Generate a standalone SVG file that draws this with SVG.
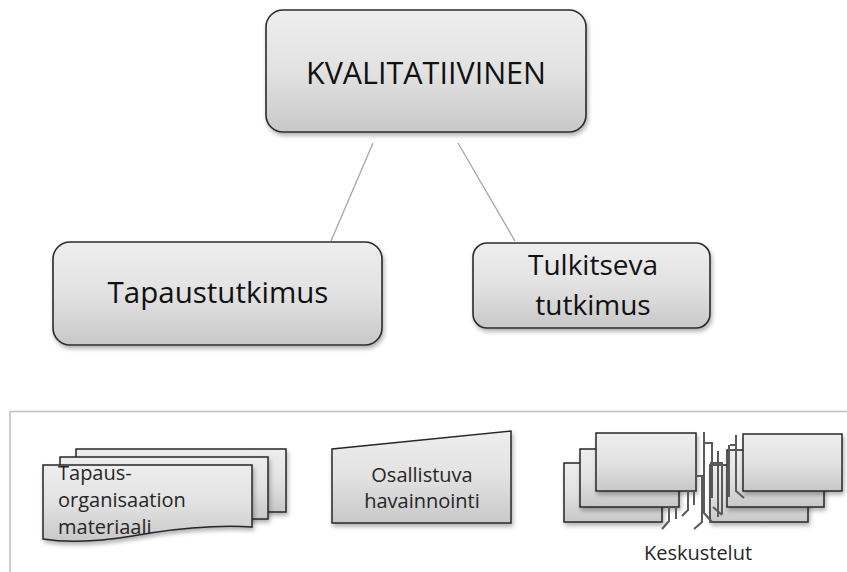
<svg xmlns="http://www.w3.org/2000/svg" width="847" height="572" viewBox="0 0 847 572">
<style>
text{font-family:"Open Sans","Liberation Sans",Arial,sans-serif;fill:#111;text-anchor:middle}
.box{fill:url(#g);stroke:#2b2b2b;stroke-width:1.6;filter:url(#sh)}
.sm{fill:url(#g);stroke:#262626;stroke-width:1.5;filter:url(#sh)}
.conn{stroke:#a6a6a6;stroke-width:1.3;fill:none}
.cab{stroke:#5a5a5a;stroke-width:2;fill:none}
.frame{stroke:#bfbfbf;stroke-width:1.5;fill:none}
.lbl{font-size:20px;fill:#262626}
</style>
<defs>
<linearGradient id="g" x1="0" y1="0" x2="0" y2="1">
<stop offset="0" stop-color="#eeeeee"/>
<stop offset="0.5" stop-color="#e2e2e2"/>
<stop offset="1" stop-color="#c8c8c8"/>
</linearGradient>
<filter id="sh" x="-10%" y="-10%" width="130%" height="140%">
<feDropShadow dx="1.5" dy="3" stdDeviation="2" flood-color="#000" flood-opacity="0.3"/>
</filter>
</defs>
<g id="connectors">
<line class="conn" x1="373" y1="143" x2="331" y2="241"/>
<line class="conn" x1="458" y1="143" x2="515" y2="241"/>
</g>
<g id="kvalitatiivinen">
<rect class="box" x="266" y="10" width="320" height="122" rx="17"/>
<text x="426" y="84" font-size="30.5">KVALITATIIVINEN</text>
</g>
<g id="tapaustutkimus">
<rect class="box" x="53" y="242" width="329" height="103" rx="17"/>
<text x="218" y="303" font-size="29.5">Tapaustutkimus</text>
</g>
<g id="tulkitseva">
<rect class="box" x="473" y="243" width="237" height="85" rx="14"/>
<text x="593" y="275" font-size="28">Tulkitseva</text>
<text x="593" y="315" font-size="28">tutkimus</text>
</g>
<g id="frame">
<path class="frame" d="M10 572 V411.5 H847"/>
</g>
<g id="tapaus-organisaation-materiaali">
<rect class="sm" x="76" y="449" width="210" height="63"/>
<rect class="sm" x="60" y="457" width="208" height="62"/>
<path class="sm" d="M43 465 H252 V527 C220 525 190 527 150 533 C120 538 80 545 43 539 Z"/>
<text class="lbl" x="58" y="480" style="text-anchor:start">Tapaus-</text>
<text class="lbl" x="58" y="507" style="text-anchor:start">organisaation</text>
<text class="lbl" x="58" y="534" style="text-anchor:start">materiaali</text>
</g>
<g id="osallistuva-havainnointi">
<path class="sm" d="M332 449 L511 431 V523 H332 Z"/>
<text class="lbl" x="422" y="482">Osallistuva</text>
<text class="lbl" x="422" y="508">havainnointi</text>
</g>
<g id="keskustelut">
<rect class="sm" x="564" y="463" width="98" height="59"/>
<rect class="sm" x="580" y="449" width="99" height="58"/>
<rect class="sm" x="596" y="433" width="100" height="58"/>
<rect class="sm" x="710" y="465" width="98" height="57"/>
<rect class="sm" x="727" y="450" width="97" height="57"/>
<rect class="sm" x="743" y="434" width="99" height="57"/>
<path class="cab" d="M669 507 V521 L662 529"/>
<path class="cab" d="M676 507 V519"/>
<path class="cab" d="M688 491 V510 L682 516"/>
<path class="cab" d="M694 491 V505"/>
<path class="cab" d="M696 476 H702 V522 L694 529"/>
<path class="cab" d="M704 432 V513 L712 522"/>
<path class="cab" d="M705 443 H712 V498"/>
<path class="cab" d="M718 451 V517"/>
<path class="cab" d="M710 463 H722 V514"/>
<path class="cab" d="M713 507 L722 515"/>
<path class="cab" d="M730 445 H736 V491 L744 498"/>
<path class="cab" d="M729 445 V497"/>
<path class="cab" d="M736 435 V445"/>
<text class="lbl" x="698" y="560">Keskustelut</text>
</g>
</svg>
